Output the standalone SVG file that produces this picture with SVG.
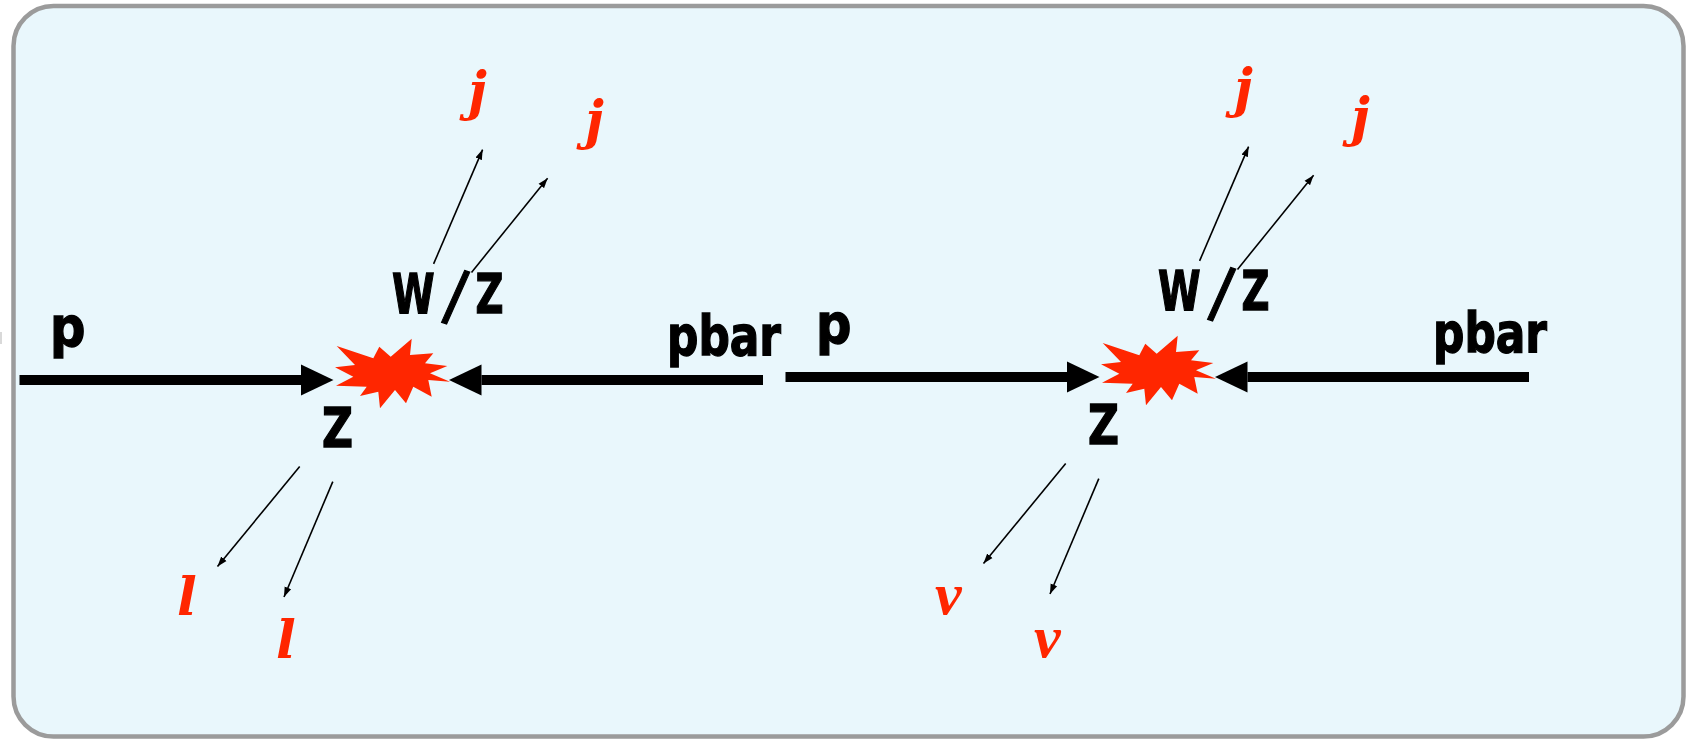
<svg xmlns="http://www.w3.org/2000/svg" width="1694" height="739" viewBox="0 0 1694 739">
<style>
.lbl{font-family:"DejaVu Sans Condensed","DejaVu Sans",sans-serif;font-weight:bold;font-stretch:condensed;font-size:55px;fill:#000;stroke:#000;stroke-width:1.3}
.red{font-family:"DejaVu Serif","Liberation Serif",serif;font-weight:bold;font-style:italic;font-size:52px;fill:#FF2600}
.nu{font-family:"Liberation Serif","Times New Roman",serif;font-weight:bold;font-style:italic;font-size:60px;fill:#FF2600}
.beam{stroke:#000;stroke-width:10;fill:none}
.jet{stroke:#000;stroke-width:1.6;fill:none}
.star{fill:#FF2600}
</style>
<defs>
<marker id="big" markerUnits="userSpaceOnUse" markerWidth="33" markerHeight="33" viewBox="0 0 33 33" refX="0" refY="16" orient="auto">
<path d="M0,0.5 L32.5,16 L0,31.5 z" fill="#000"/>
</marker>
<marker id="small" markerUnits="userSpaceOnUse" markerWidth="11" markerHeight="8" viewBox="0 0 11 8" refX="10" refY="4" orient="auto">
<path d="M0,0.5 L10,4 L0,7.5 z" fill="#000"/>
</marker>
<polygon id="starShape" points="336.7,346 373.3,358.3 379.3,346.7 390.7,356.7 411.7,338.7 410,355 433.3,353.3 425,363.3 447.3,366 430,373.3 450,381.7 428.3,380 431.7,396.7 413.3,386.7 406,403.3 395,390 380,408.3 378.3,391.7 360,396 366.7,386.7 336,385.7 353.3,376.7 335,367.3 355,365"/>
</defs>
<rect x="0" y="0" width="1694" height="739" fill="#fff"/>
<rect x="0" y="332" width="2" height="12" fill="#d9d9d9"/>
<rect id="frame" x="13.5" y="6" width="1670" height="730.5" rx="40" ry="40" fill="#E9F7FC" stroke="#9B9B9B" stroke-width="4.5"/>

<g id="diagram-left">
  <g id="connectors-left">
    <line class="beam" x1="19.5" y1="380" x2="301" y2="380" marker-end="url(#big)"/>
    <line class="beam" x1="763" y1="380" x2="481.5" y2="380" marker-end="url(#big)"/>
    <line class="jet" x1="433.6" y1="263.9" x2="482.6" y2="149.6" marker-end="url(#small)"/>
    <line class="jet" x1="471.5" y1="272.4" x2="547.6" y2="178.2" marker-end="url(#small)"/>
    <line class="jet" x1="299.7" y1="466.5" x2="217.5" y2="566.5" marker-end="url(#small)"/>
    <line class="jet" x1="332.8" y1="481.6" x2="284" y2="597" marker-end="url(#small)"/>
  </g>
  <g id="vertex-left"><use href="#starShape" class="star"/></g>
  <g id="p-left"><text class="lbl" x="50" y="346">p</text></g>
  <g id="pbar-left"><text class="lbl" x="667" y="355" textLength="114" lengthAdjust="spacingAndGlyphs">pbar</text></g>
  <g id="wz-left"><text class="lbl" transform="translate(392,313) scale(0.78,1)" x="0" y="0">W<tspan x="65" y="3" font-size="70" rotate="14">/</tspan><tspan x="107" y="0">Z</tspan></text></g>
  <g id="z-left"><text class="lbl" x="322" y="446.7" textLength="31" lengthAdjust="spacingAndGlyphs">Z</text></g>
  <g id="j1-left"><text class="red" x="468" y="108.5">j</text></g>
  <g id="j2-left"><text class="red" x="585" y="138">j</text></g>
  <g id="l1-left"><text class="red" x="177" y="615">l</text></g>
  <g id="l2-left"><text class="red" x="276" y="658">l</text></g>
</g>

<g id="diagram-right" transform="translate(766,-3)">
  <g id="connectors-right">
    <line class="beam" x1="19.5" y1="380" x2="301" y2="380" marker-end="url(#big)"/>
    <line class="beam" x1="763" y1="380" x2="481.5" y2="380" marker-end="url(#big)"/>
    <line class="jet" x1="433.6" y1="263.9" x2="482.6" y2="149.6" marker-end="url(#small)"/>
    <line class="jet" x1="471.5" y1="272.4" x2="547.6" y2="178.2" marker-end="url(#small)"/>
    <line class="jet" x1="299.7" y1="466.5" x2="217.5" y2="566.5" marker-end="url(#small)"/>
    <line class="jet" x1="332.8" y1="481.6" x2="284" y2="597" marker-end="url(#small)"/>
  </g>
  <g id="vertex-right"><use href="#starShape" class="star"/></g>
  <g id="p-right"><text class="lbl" x="50" y="346">p</text></g>
  <g id="pbar-right"><text class="lbl" x="667" y="355" textLength="114" lengthAdjust="spacingAndGlyphs">pbar</text></g>
  <g id="wz-right"><text class="lbl" transform="translate(392,313) scale(0.78,1)" x="0" y="0">W<tspan x="65" y="3" font-size="70" rotate="14">/</tspan><tspan x="107" y="0">Z</tspan></text></g>
  <g id="z-right"><text class="lbl" x="322" y="446.7" textLength="31" lengthAdjust="spacingAndGlyphs">Z</text></g>
  <g id="j1-right"><text class="red" x="468" y="108.5">j</text></g>
  <g id="j2-right"><text class="red" x="585" y="138">j</text></g>
  <g id="nu1-right"><text class="nu" x="169" y="617">ν</text></g>
  <g id="nu2-right"><text class="nu" x="268" y="660">ν</text></g>
</g>
</svg>
